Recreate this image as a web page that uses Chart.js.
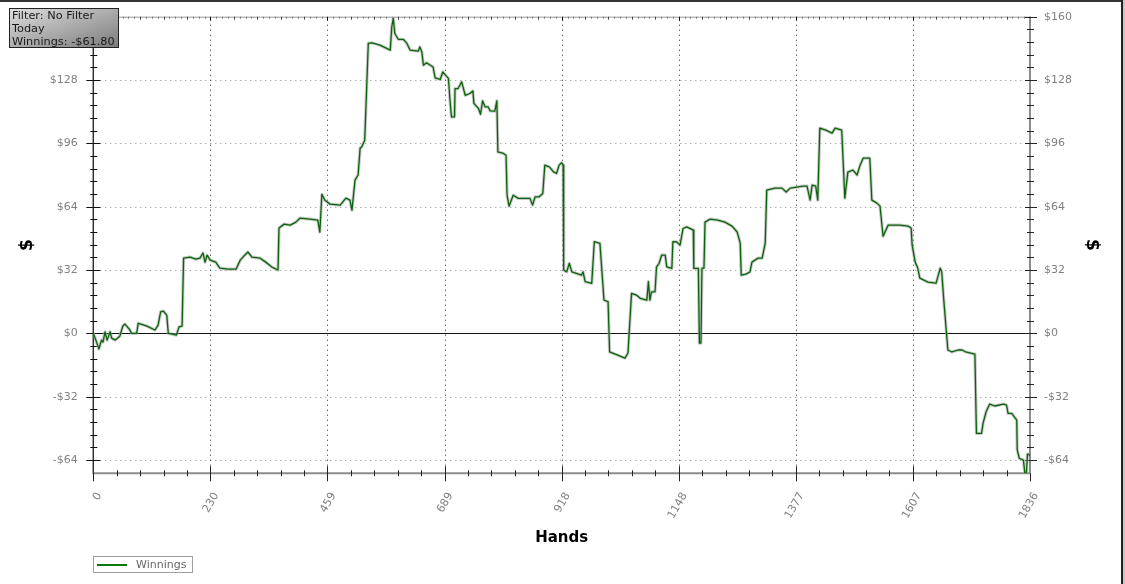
<!DOCTYPE html>
<html>
<head>
<meta charset="utf-8">
<script src="https://cdn.jsdelivr.net/npm/chart.js@4.4.1/dist/chart.umd.min.js"></script>
<style>
  html, body { margin: 0; padding: 0; background: #fff; }
  #wrap { position: relative; width: 1125px; height: 584px; overflow: hidden; background: #fff; }
  #c { position: absolute; left: 0; top: 0; }
  #frameTop { position: absolute; left: 0; top: 0; width: 1123px; height: 2px; background: #333; }
  #frameRight { position: absolute; left: 1121px; top: 0; width: 2px; height: 584px; background: #222; }
  #frameGray { position: absolute; left: 1123px; top: 0; width: 2px; height: 584px; background: #c8c8c8; }
  #info { position: absolute; left: 9px; top: 8px; width: 106px; height: 38px; border: 1px solid #222;
          background: linear-gradient(160deg, #dcdcdc 0%, #a8a8a8 55%, #7c7c7c 100%);
          font: 11.3px "DejaVu Sans", Verdana, sans-serif; color: #1a1a1a; line-height: 13px; padding-left: 2px; box-sizing: content-box; }
  #legend { position: absolute; left: 93px; top: 556px; width: 100px; height: 17px; border: 1px solid #a0a0a0; box-sizing: border-box;
            font: 11px "DejaVu Sans", Verdana, sans-serif; color: #666; }
  #legend .ln { position: absolute; left: 3px; top: 7px; width: 30px; height: 2px; background: #0a7a0a; }
  #legend .tx { position: absolute; left: 42px; top: 1px; line-height: 14px; }
</style>
</head>
<body>
<div id="wrap">
  <canvas id="c" width="1125" height="584"></canvas>
  <div id="frameTop"></div>
  <div id="frameRight"></div>
  <div id="frameGray"></div>
  <div id="info">Filter: No Filter<br>Today<br>Winnings: -$61.80</div>
  <div id="legend"><div class="ln"></div><div class="tx">Winnings</div></div>
</div>
<script>
// ---- data ----
const hands = [0,5,11,16,19,23,27,33,36,43,52,58,62,71,75,85,88,95,105,121,127,132,137,144,147,157,163,168,174,177,
190,201,209,215,219,223,229,240,248,264,280,288,295,303,311,327,338,350,362,364,374,386,397,405,425,440,444,448,454,464,
484,495,503,507,513,519,523,526,532,539,546,562,582,585,588,591,598,608,614,621,637,640,644,647,653,666,670,680,685,696,
699,702,708,709,715,722,729,738,744,746,755,759,763,768,774,778,787,791,793,804,809,811,815,823,833,856,861,866,874,881,
885,894,902,908,913,918,921,922,928,933,938,947,957,960,964,977,982,993,1001,1009,1012,1028,1042,1048,1055,1065,1072,1085,
1088,1091,1094,1101,1104,1109,1114,1121,1124,1134,1136,1143,1150,1156,1163,1176,1177,1186,1188,1191,1193,1197,1199,1209,
1224,1238,1252,1262,1268,1270,1279,1287,1291,1303,1311,1317,1320,1336,1350,1358,1366,1379,1391,1399,1405,1409,1416,1420,
1424,1436,1448,1454,1467,1473,1479,1489,1497,1503,1509,1522,1526,1536,1542,1548,1558,1581,1597,1603,1605,1611,1616,1620,
1636,1652,1660,1663,1667,1675,1683,1695,1703,1710,1728,1731,1741,1744,1750,1757,1767,1784,1790,1793,1800,1810,1811,1815,
1823,1826,1829,1831,1833,1836];
const winnings = [0,-3.4,-7.9,-3.4,-4.4,0.8,-3.4,0.8,-2.4,-3.4,-1.4,3.7,4.7,2.0,0,0,5.1,4.5,3.7,1.7,4.2,10.9,11.3,9.2,0,-0.5,-0.9,3.3,3.7,38.0,
38.5,37.5,38.0,40.6,36.0,39.5,37.0,36.0,33.0,32.5,32.5,37.0,39.0,41.1,38.5,38.0,36.0,33.5,32.0,53.2,55.2,54.7,56.2,58.2,57.7,57.2,51.2,70.3,67.3,65.3,
64.8,68.3,67.3,62.3,77.4,80.0,93.6,94.2,97.6,146.5,146.8,145.6,143.1,154.8,159.1,151.5,148.5,148.5,146.8,143.1,142.6,144.7,142.2,135.5,136.7,134.6,129.1,128.3,132.1,128.8,
118.2,109.4,109.4,123.7,123.7,127.1,120.3,121.2,122.5,116.2,113.6,110.7,117.5,114.4,114.4,112.4,112.3,117.5,91.7,90.9,90.0,69.8,64.3,69.8,68.2,68.2,64.8,69.0,69.0,70.7,
85.0,84.1,81.6,80.8,85.0,86.2,85.0,32.0,31.1,35.4,31.1,30.3,29.4,31.1,26.1,25.3,46.3,45.5,16.8,16.0,-9.4,-11.0,-12.5,-9.9,20.2,19.3,17.7,16.8,
26.1,16.8,21.0,21.0,33.6,35.4,39.5,39.5,33.6,32.8,46.3,46.3,44.6,53.0,53.8,52.2,32.8,32.8,-4.9,-4.9,33.0,33.0,56.2,57.7,
57.2,56.2,54.2,51.2,45.6,29.4,29.9,31.0,36.0,38.0,38.0,45.6,72.4,73.4,73.4,71.4,73.4,73.9,74.4,74.4,67.3,74.9,74.4,67.3,
103.7,102.7,101.2,103.7,102.7,68.3,81.5,82.5,80.0,85.0,88.5,88.5,67.3,65.8,64.3,49.1,54.7,54.7,54.2,53.2,44.6,36.0,33.0,27.9,
25.9,25.4,33.0,31.0,16.8,-8.4,-9.4,-8.4,-8.4,-9.4,-10.5,-50.5,-50.5,-45.5,-39.6,-35.7,-36.7,-35.7,-36.2,-40.4,-40.4,-43.8,-58.9,-63.1,
-64.0,-70.7,-70.7,-61.0,-61.0,-61.8];

const xTickValues = [0, 229.5, 459, 688.5, 918, 1147.5, 1377, 1606.5, 1836];
const xTickLabels = ['0','230','459','689','918','1148','1377','1607','1836'];
const yTickValues = [-64, -32, 0, 32, 64, 96, 128, 160];
const yTickLabels = ['-$64','-$32','$0','$32','$64','$96','$128','$160'];
const xMin = 0, xMax = 1836, yMin = -70.7, yMax = 160;

const points = hands.map((h, i) => ({ x: h, y: winnings[i] }));

function yLabel(value) {
  const i = yTickValues.indexOf(value);
  return i >= 0 ? yTickLabels[i] : '';
}
function xLabel(value) {
  const i = xTickValues.indexOf(value);
  return i >= 0 ? xTickLabels[i] : '';
}

const tickFont = { family: 'DejaVu Sans', size: 11 };

function noPad(s) { s.paddingTop = 0; s.paddingBottom = 0; s.paddingLeft = 0; s.paddingRight = 0; }

const axesPlugin = {
  id: 'axesPlugin',
  beforeDatasetsDraw(chart) {
    const { ctx, chartArea: { left, right, top, bottom } } = chart;
    const x = chart.scales.x, y = chart.scales.y;
    const line = (x1, y1, x2, y2) => { ctx.beginPath(); ctx.moveTo(x1, y1); ctx.lineTo(x2, y2); ctx.stroke(); };
    ctx.save();
    // horizontal dotted grid
    ctx.lineWidth = 1;
    ctx.setLineDash([1, 4]);
    ctx.strokeStyle = '#8a8a8a';
    yTickValues.forEach(v => {
      if (v === 0 || v === yMax) return;
      const py = Math.round(y.getPixelForValue(v)) + 0.5;
      line(left + 2, py, right - 2, py);
    });
    // vertical dotted grid
    ctx.strokeStyle = '#222';
    xTickValues.forEach(v => {
      if (v === xMin || v === xMax) return;
      const px = Math.round(x.getPixelForValue(v)) + 0.5;
      line(px, top + 3, px, bottom - 2);
    });
    ctx.setLineDash([]);
    // zero line
    ctx.strokeStyle = '#111';
    const y0 = Math.round(y.getPixelForValue(0)) + 0.5;
    line(left, y0, right, y0);

    // minor positions
    const yMinor = [];
    for (let i = 0; i < yTickValues.length - 1; i++) {
      const a = yTickValues[i], b = yTickValues[i + 1];
      for (let k = 1; k < 5; k++) yMinor.push(a + (b - a) * k / 5);
    }
    const xMinor = [];
    for (let i = 0; i < xTickValues.length - 1; i++) {
      const a = xTickValues[i], b = xTickValues[i + 1];
      for (let k = 1; k < 5; k++) xMinor.push(a + (b - a) * k / 5);
    }
    const xTiny = [];
    for (let i = 0; i < xTickValues.length - 1; i++) {
      const a = xTickValues[i], b = xTickValues[i + 1];
      for (let k = 1; k < 20; k++) if (k % 4 !== 0) xTiny.push(a + (b - a) * k / 20);
    }

    // top axis
    ctx.strokeStyle = '#999';
    ctx.lineWidth = 1;
    line(left, top + 0.5, right, top + 0.5);
    ctx.strokeStyle = '#777';
    xTiny.forEach(v => { const px = Math.round(x.getPixelForValue(v)) + 0.5; line(px, top, px, top + 2); });
    ctx.strokeStyle = '#444';
    xMinor.forEach(v => { const px = Math.round(x.getPixelForValue(v)) + 0.5; line(px, top, px, top + 3); });
    ctx.strokeStyle = '#111';
    xTickValues.forEach(v => { const px = Math.round(x.getPixelForValue(v)) + 0.5; line(px, top, px, top + 4); });

    // bottom axis
    ctx.strokeStyle = '#8c8c8c';
    ctx.lineWidth = 2;
    line(left, bottom, right, bottom);
    ctx.lineWidth = 1;
    ctx.strokeStyle = '#222';
    xMinor.forEach(v => { const px = Math.round(x.getPixelForValue(v)) + 0.5; line(px, bottom - 3, px, bottom + 3); });
    xTickValues.forEach(v => { const px = Math.round(x.getPixelForValue(v)) + 0.5; line(px, bottom - 7, px, bottom + 8); });

    // right axis
    ctx.strokeStyle = '#8c8c8c';
    ctx.lineWidth = 2;
    line(right, top, right, bottom);
    ctx.lineWidth = 1;
    ctx.strokeStyle = '#222';
    yMinor.forEach(v => { const py = Math.round(y.getPixelForValue(v)) + 0.5; line(right - 3, py, right + 4, py); });
    yTickValues.forEach(v => { const py = Math.round(y.getPixelForValue(v)) + 0.5; line(right - 5, py, right + 7, py); });

    // left axis
    ctx.strokeStyle = '#333';
    ctx.lineWidth = 1.5;
    line(left, top, left, bottom + 1);
    ctx.lineWidth = 1;
    ctx.strokeStyle = '#111';
    yMinor.forEach(v => { const py = Math.round(y.getPixelForValue(v)) + 0.5; line(left - 3, py, left + 4, py); });
    yTickValues.forEach(v => { const py = Math.round(y.getPixelForValue(v)) + 0.5; line(left - 7, py, left + 7, py); });
    ctx.restore();
  }
};

new Chart(document.getElementById('c'), {
  type: 'line',
  data: {
    datasets: [
      { label: 'Winnings', data: points, borderColor: '#0a640a', borderWidth: 1.3, pointRadius: 0, tension: 0, order: 0, fill: false, borderJoinStyle: 'round' },
      { label: 'halo', data: points, borderColor: 'rgba(165,165,165,0.6)', borderWidth: 3.2, pointRadius: 0, tension: 0, order: 1, fill: false, borderJoinStyle: 'round' }
    ]
  },
  options: {
    responsive: false,
    animation: false,
    devicePixelRatio: 1,
    layout: { padding: { top: 16.7, left: 0, right: 0, bottom: 0 } },
    plugins: { legend: { display: false }, tooltip: { enabled: false } },
    scales: {
      x: {
        type: 'linear', position: 'bottom', min: xMin, max: xMax,
        afterBuildTicks: s => { s.ticks = xTickValues.map(v => ({ value: v })); },
        afterFit: s => { s.height = 110.7; noPad(s); },
        grid: { display: false, drawTicks: false, tickLength: 0 },
        border: { display: false },
        ticks: { autoSkip: false, minRotation: 60, maxRotation: 60, padding: 17, labelOffset: 6, color: '#808080', font: tickFont, callback: v => xLabel(v) },
        title: { display: true, text: 'Hands', color: '#000', font: { family: 'DejaVu Sans', size: 15, weight: 'bold' }, padding: { top: 0, bottom: 36.7 } }
      },
      y: {
        type: 'linear', position: 'left', min: yMin, max: yMax,
        afterBuildTicks: s => { s.ticks = yTickValues.map(v => ({ value: v })); },
        afterFit: s => { s.width = 93.3; noPad(s); },
        grid: { display: false, drawTicks: false, tickLength: 0 },
        border: { display: false },
        ticks: { padding: 15.6, color: '#808080', font: tickFont, callback: v => yLabel(v) },
        title: { display: true, text: '$', color: '#000', font: { family: 'DejaVu Sans', size: 17, weight: 'bold' }, padding: { top: 17, bottom: 0 } }
      },
      y2: {
        type: 'linear', position: 'right', min: yMin, max: yMax,
        afterBuildTicks: s => { s.ticks = yTickValues.map(v => ({ value: v })); },
        afterFit: s => { s.width = 95; noPad(s); },
        grid: { display: false, drawTicks: false, tickLength: 0 },
        border: { display: false },
        ticks: { padding: 14, color: '#808080', font: tickFont, callback: v => yLabel(v) },
        title: { display: true, text: '$', color: '#000', font: { family: 'DejaVu Sans', size: 17, weight: 'bold' }, padding: { top: 23.5, bottom: 0 } }
      }
    }
  },
  plugins: [axesPlugin]
});
</script>
</body>
</html>
